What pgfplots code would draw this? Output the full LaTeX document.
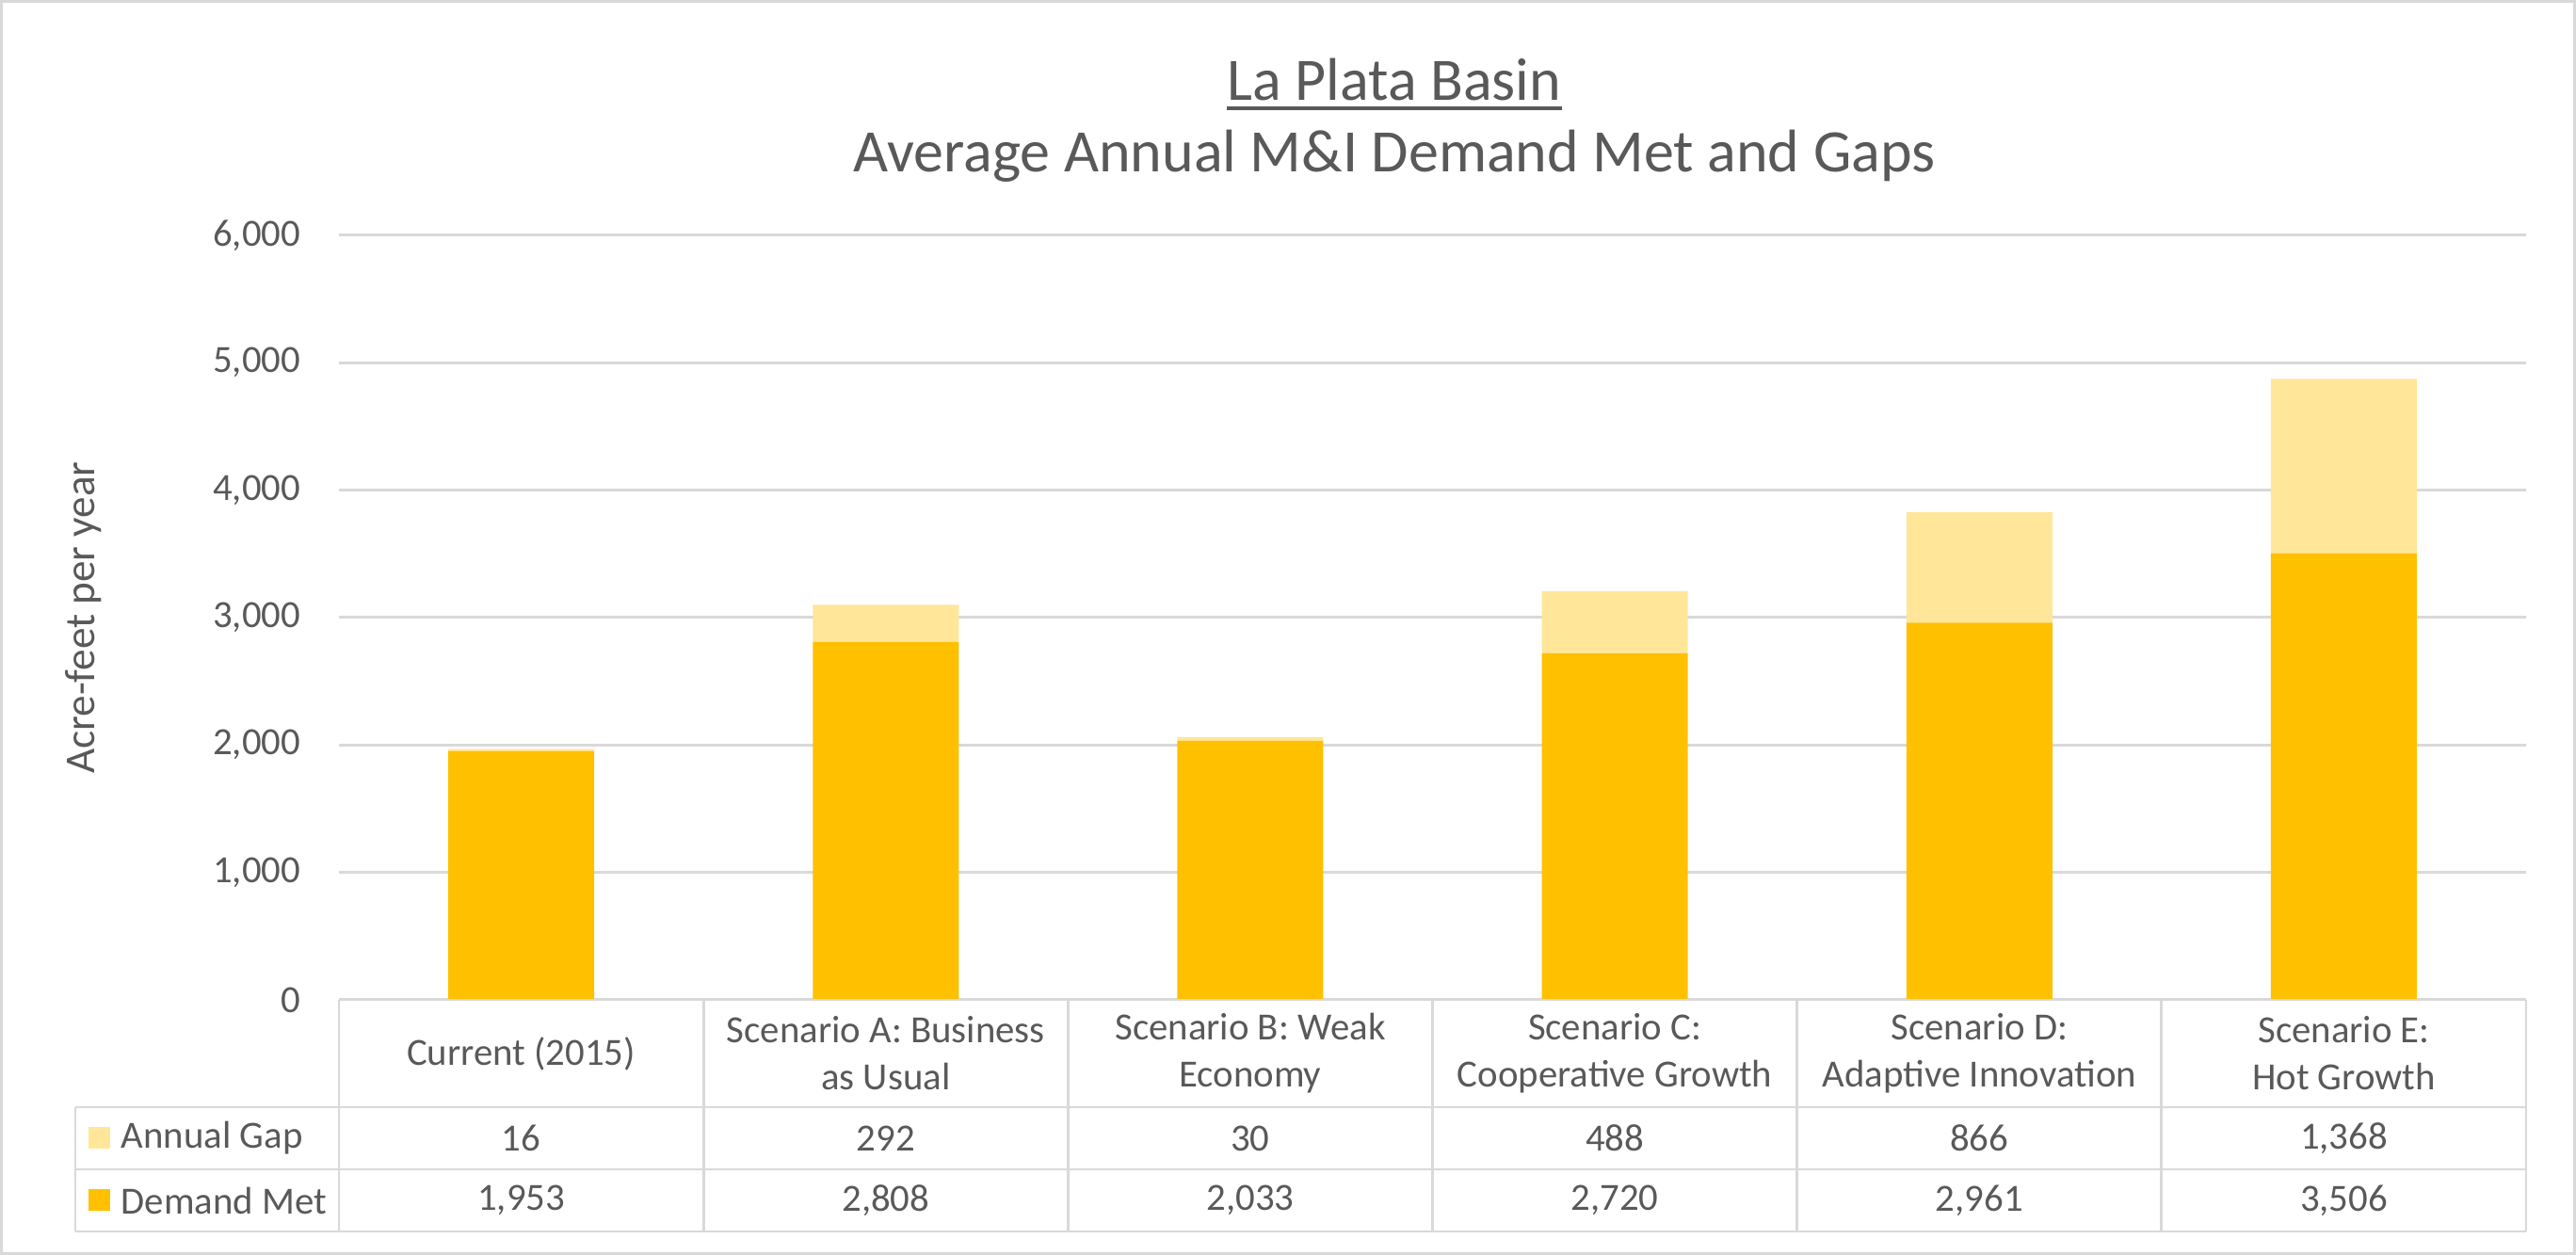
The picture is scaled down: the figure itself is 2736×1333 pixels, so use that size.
\documentclass[border=0pt]{standalone}
\usepackage{pgfplots}
\pgfplotsset{compat=1.18}
\usepackage{pgfplotstable}
\usepackage{fontspec}
\setmainfont{Carlito}
\definecolor{gold}{HTML}{FFC000}
\definecolor{lgold}{HTML}{FFE699}
\definecolor{txt}{HTML}{595959}
\definecolor{gridc}{HTML}{D9D9D9}
\pgfkeys{/pgf/number format/.cd, 1000 sep={,}, assume math mode=true}
\pgfplotstableread{
idx met gap
0 1953 16
1 2808 292
2 2033 30
3 2720 488
4 2961 866
5 3506 1368
}\data
\begin{document}
\begin{tikzpicture}
\begin{scope}[x=0.25pt,y=-0.25pt]
\useasboundingbox (0,0) rectangle (2736,1333);
\draw[gridc, line width=0.75pt] (1.5,1.5) rectangle (2734.5,1331.5);
\end{scope}
\begin{axis}[at={(90pt,-62.5pt)}, anchor=north west, scale only axis,
  width=580.75pt, height=203pt,
  xmin=-0.5, xmax=5.5, ymin=0, ymax=6000,
  ybar stacked, bar width=38.75pt,
  xtick=\empty, ytick={0,1000,...,6000}, scaled y ticks=false,
  ymajorgrids, grid style={gridc, line width=0.75pt},
  axis line style={draw=none}, major tick length=0pt,
  yticklabel style={font=\fontsize{10.2}{12}\selectfont, text=txt, anchor=east, inner sep=0pt, xshift=-10pt},
]
\addplot[fill=gold, draw=none] table[x=idx,y=met]{\data};
\addplot[fill=lgold, draw=none] table[x=idx,y=gap]{\data};
\end{axis}
\begin{scope}[x=0.25pt,y=-0.25pt]
% titles
\node[anchor=base, inner sep=0pt, font=\fontsize{16}{19}\selectfont, text=txt] (t1) at (1481,107) {La Plata Basin};
\draw[txt, line width=0.83pt] ([yshift=-2pt]t1.base west) -- ([yshift=-2pt]t1.base east);
\node[anchor=base, inner sep=0pt, font=\fontsize{16}{19}\selectfont, text=txt] at (1481,183) {Average Annual M\&I Demand Met and Gaps};
\node[rotate=90, inner sep=0pt, font=\fontsize{11.3}{13}\selectfont, text=txt] at (89,656) {Acre-feet per year};
% table lines
\draw[gridc, line width=0.7pt] (360,1062) -- (2683,1062);
\draw[gridc, line width=0.7pt] (80,1176) -- (2683,1176);
\draw[gridc, line width=0.7pt] (80,1242) -- (2683,1242);
\draw[gridc, line width=0.7pt] (80,1308) -- (2683,1308);
\draw[gridc, line width=0.7pt] (80,1176) -- (80,1308);
\foreach \k in {0,...,6}{
  \draw[gridc, line width=0.7pt] (360+\k*387.17,1062) -- (360+\k*387.17,1308);
}
% categories
\foreach \lab [count=\i from 0] in {Current (2015), {Scenario A: Business\\as Usual}, {Scenario B: Weak\\Economy}, {Scenario C:\\Cooperative Growth}, {Scenario D:\\Adaptive Innovation}, {Scenario E:\\Hot Growth}}{
  \node[align=center, inner sep=0pt, font=\fontsize{10.2}{12.5}\selectfont, text=txt] at (553.6+\i*387.17,1119) {\lab};
}
% values
\foreach \i in {0,...,5}{
  \pgfplotstablegetelem{\i}{gap}\of\data
  \node[inner sep=0pt, font=\fontsize{10.2}{12.5}\selectfont, text=txt] at (553.6+\i*387.17,1209) {\pgfmathprintnumber{\pgfplotsretval}};
  \pgfplotstablegetelem{\i}{met}\of\data
  \node[inner sep=0pt, font=\fontsize{10.2}{12.5}\selectfont, text=txt] at (553.6+\i*387.17,1275) {\pgfmathprintnumber{\pgfplotsretval}};
}
% legend keys
\fill[lgold] (94,1197) rectangle (117,1220);
\node[anchor=west, inner sep=0pt, font=\fontsize{10.2}{12.5}\selectfont, text=txt] at (128,1209) {Annual Gap};
\fill[gold] (94,1263) rectangle (117,1286);
\node[anchor=west, inner sep=0pt, font=\fontsize{10.2}{12.5}\selectfont, text=txt] at (128,1275) {Demand Met};
\end{scope}
\end{tikzpicture}
\end{document}
